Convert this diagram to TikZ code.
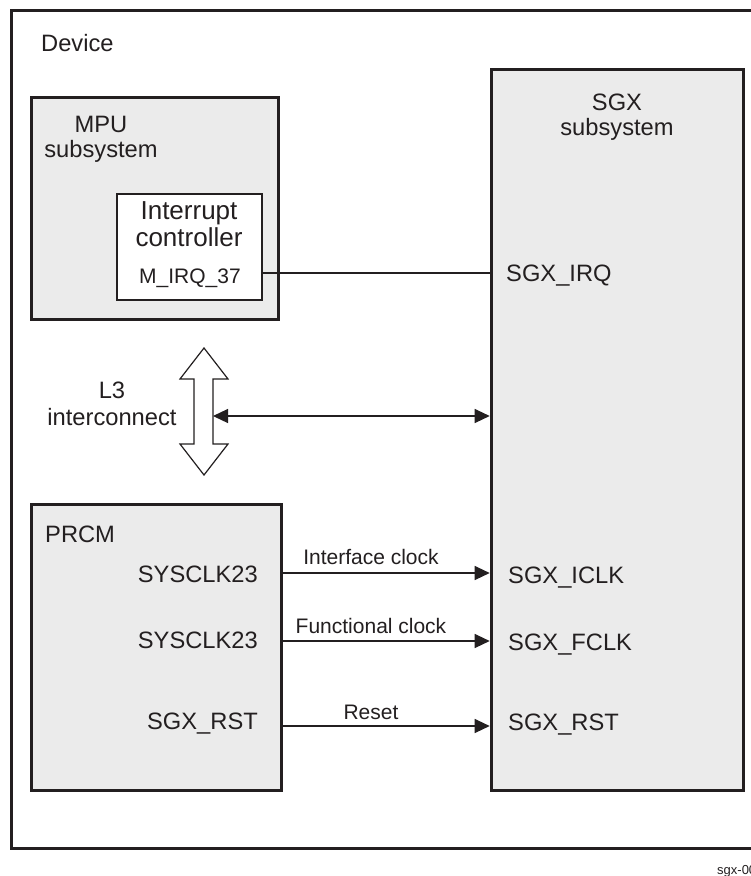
\documentclass[tikz,border=0pt]{standalone}
\usepackage{fontspec}
\setmainfont{Liberation Sans}
\usetikzlibrary{arrows.meta}
\definecolor{ink}{HTML}{231F20}
\definecolor{boxgray}{HTML}{EBEBEB}
\begin{document}
\begin{tikzpicture}[x=1pt,y=-1pt,
  box/.style={draw=ink, fill=boxgray, line width=3pt, anchor=north west, inner sep=0pt, outer sep=0pt},
  txt/.style={text=ink, inner sep=0pt, font=\fontsize{23.7}{26}\selectfont},
  big/.style={text=ink, inner sep=0pt, font=\fontsize{26}{28}\selectfont},
  sml/.style={text=ink, inner sep=0pt, font=\fontsize{21}{24}\selectfont},
  conn/.style={draw=ink, line width=1.2pt},
  tip/.style={-{Triangle[length=15pt,width=14pt]}, shorten >=1.3pt},
  dtip/.style={{Triangle[length=15pt,width=14pt]}-{Triangle[length=15pt,width=14pt]}, shorten >=1.3pt}]
\useasboundingbox (0,0) rectangle (751,876);

% boxes
\node[box, fill=white, minimum width=747pt, minimum height=838pt] (device) at (11,10) {};
\node[box, minimum width=247pt, minimum height=222pt] (mpu) at (31,97) {};
\node[box, fill=white, line width=2pt, minimum width=145pt, minimum height=106pt] (intc) at (117,194) {};
\node[box, minimum width=252pt, minimum height=721pt] (sgx) at (491,69) {};
\node[box, minimum width=250pt, minimum height=286pt] (prcm) at (31,504) {};

% texts
\node[txt, anchor=base west] (tdev) at (41,51) {Device};
\node[txt, anchor=base] (tmpu1) at (101,132) {MPU};
\node[txt, anchor=base] (tmpu2) at (101,157) {subsystem};
\node[big, anchor=base] (tint1) at (189,219) {Interrupt};
\node[big, anchor=base] (tint2) at (189,246) {controller};
\node[sml, anchor=base] (mirq) at (190,283) {M\_IRQ\_37};
\node[txt, anchor=base] (tsgx1) at (617,110) {SGX};
\node[txt, anchor=base] (tsgx2) at (617,135) {subsystem};
\node[txt, anchor=base west] (sgxirq) at (506,281) {SGX\_IRQ};
\node[txt, anchor=base] (tl3a) at (112,398) {L3};
\node[txt, anchor=base] (tl3b) at (112,425) {interconnect};
\node[txt, anchor=base west] (tprcm) at (45,542) {PRCM};
\node[txt, anchor=base east] (sys1) at (258,582) {SYSCLK23};
\node[txt, anchor=base east] (sys2) at (258,648) {SYSCLK23};
\node[txt, anchor=base east] (prst) at (258,729) {SGX\_RST};
\node[txt, anchor=base west] (iclk) at (508,583) {SGX\_ICLK};
\node[txt, anchor=base west] (fclk) at (508,650) {SGX\_FCLK};
\node[txt, anchor=base west] (srst) at (508,730) {SGX\_RST};
\node[sml, anchor=base] (lif) at (371,564) {Interface clock};
\node[sml, anchor=base] (lfc) at (371,633) {Functional clock};
\node[sml, anchor=base] (lrs) at (371,719) {Reset};
\node[text=ink, inner sep=0pt, font=\fontsize{13}{15}\selectfont, anchor=base west] (fig) at (717,874) {sgx-00};

% L3 big double arrow
\draw[draw=ink, fill=white, line width=1.2pt]
  (204,348) -- (228,379) -- (213,379) -- (213,444) -- (228,444) -- (204,475)
  -- (180,444) -- (194,444) -- (194,379) -- (180,379) -- cycle;
\coordinate (l3r) at (213,416);

% connectors
\coordinate (irqy) at (0,273);
\coordinate (y1) at (0,573);
\coordinate (y2) at (0,641);
\coordinate (y3) at (0,726);
\draw[conn] (intc.east |- irqy) -- (sgx.west |- irqy);
\draw[conn, dtip, shorten <=0pt] (l3r) -- (sgx.west |- l3r);
\draw[conn, tip] (prcm.east |- y1) -- (sgx.west |- y1);
\draw[conn, tip] (prcm.east |- y2) -- (sgx.west |- y2);
\draw[conn, tip] (prcm.east |- y3) -- (sgx.west |- y3);
\end{tikzpicture}
\end{document}
